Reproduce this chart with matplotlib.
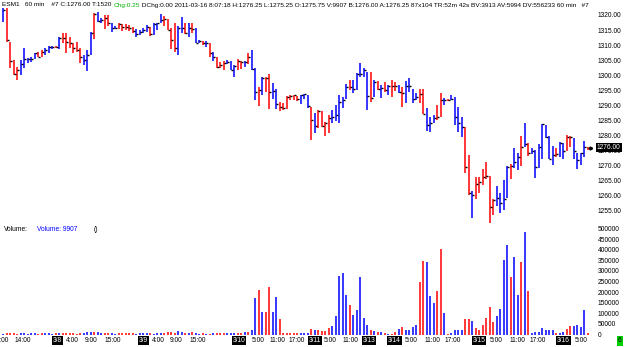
import matplotlib
matplotlib.use('Agg')
import matplotlib.pyplot as plt
import matplotlib.transforms as mtrans
import numpy as np

# hourly OHLC (high, low, close), bar colour and volume
high = [1322.3, 1322.3, 1311.0, 1305.0, 1302.8, 1305.0, 1309.0, 1305.7, 1306.0, 1307.4,
        1307.7, 1308.4, 1309.0, 1309.7, 1309.7, 1309.7, 1312.7, 1314.0, 1314.0, 1312.7,
        1310.7, 1311.0, 1309.0, 1306.7, 1308.4, 1314.4, 1320.7, 1321.0, 1319.0, 1320.0,
        1320.0, 1317.3, 1316.4, 1317.3, 1317.0, 1317.0, 1316.7, 1316.0, 1315.4, 1315.0,
        1315.7, 1316.7,
        1316.0, 1317.3, 1317.3, 1320.3, 1319.7, 1318.7, 1315.7, 1317.3, 1316.4, 1319.3,
        1317.3, 1317.3, 1317.3, 1315.7, 1311.7, 1311.4, 1311.4, 1310.7, 1307.7, 1306.0,
        1304.4, 1304.7, 1305.0, 1304.7, 1303.4, 1305.4, 1304.7, 1304.7, 1307.4, 1308.4,
        1302.4, 1296.0, 1299.4, 1299.4, 1300.4, 1297.5, 1295.5, 1291.2, 1290.8, 1293.1,
        1293.5, 1293.5, 1293.2,
        1293.5, 1293.8, 1293.5, 1289.5, 1287.5, 1288.5, 1288.2, 1284.5, 1286.8, 1288.5,
        1290.2, 1293.5, 1292.8, 1297.1, 1298.4, 1298.4, 1300.7, 1304.0, 1302.4, 1301.0,
        1301.0, 1298.4, 1298.1, 1296.8, 1297.8, 1296.8, 1298.4, 1297.8, 1296.8, 1296.1,
        1298.1, 1299.1, 1295.5, 1294.1, 1295.5, 1295.5, 1289.2, 1286.2, 1286.8, 1290.2,
        1294.1, 1292.5,
        1292.1, 1293.5, 1292.8, 1289.5, 1286.2, 1282.9, 1273.6, 1261.6, 1266.3, 1266.3,
        1268.9, 1271.2, 1266.6, 1259.0, 1263.3, 1261.0, 1265.3, 1269.9, 1270.6, 1275.9,
        1274.2, 1279.9, 1284.2, 1277.5, 1275.9, 1275.2, 1277.2, 1283.8, 1283.5, 1279.9,
        1276.5, 1275.9, 1277.9, 1277.5, 1280.2, 1279.9, 1279.2, 1274.2, 1274.2, 1278.2,
        1276.25]
low = [1317.7, 1311.0, 1302.4, 1300.0, 1298.4, 1300.0, 1302.4, 1304.0, 1304.4, 1305.4,
       1306.0, 1306.0, 1306.7, 1307.4, 1308.7, 1309.0, 1308.7, 1310.7, 1307.4, 1309.0,
       1307.4, 1307.7, 1304.0, 1303.4, 1301.4, 1306.7, 1312.0, 1317.7, 1317.3, 1315.4,
       1316.4, 1314.4, 1315.4, 1315.4, 1314.7, 1315.0, 1314.7, 1314.0, 1312.7, 1313.4,
       1314.0, 1314.4,
       1313.0, 1313.4, 1315.0, 1317.3, 1316.4, 1315.0, 1308.7, 1307.7, 1306.7, 1314.0,
       1313.7, 1312.7, 1314.0, 1310.7, 1310.7, 1310.0, 1309.4, 1306.0, 1304.7, 1302.4,
       1302.4, 1301.8, 1303.7, 1301.8, 1299.4, 1301.8, 1302.0, 1302.8, 1303.7, 1301.8,
       1291.8, 1289.8, 1293.5, 1294.5, 1288.8, 1292.1, 1288.8, 1288.2, 1288.5, 1288.8,
       1291.8, 1291.8, 1291.5,
       1290.5, 1292.1, 1289.2, 1278.5, 1280.9, 1282.5, 1282.9, 1279.9, 1280.9, 1284.2,
       1284.8, 1284.2, 1289.2, 1292.1, 1295.1, 1294.1, 1295.1, 1299.4, 1299.4, 1288.5,
       1291.2, 1292.8, 1295.1, 1292.5, 1294.5, 1293.5, 1292.8, 1294.8, 1294.1, 1289.5,
       1290.8, 1294.5, 1290.8, 1291.8, 1290.8, 1287.2, 1281.5, 1281.2, 1284.2, 1285.2,
       1286.2, 1290.2,
       1291.5, 1291.8, 1283.5, 1281.2, 1279.5, 1267.6, 1260.3, 1252.7, 1259.0, 1261.0,
       1263.6, 1265.6, 1251.0, 1253.7, 1256.6, 1254.3, 1255.3, 1259.3, 1265.6, 1269.3,
       1268.6, 1269.9, 1276.2, 1273.2, 1273.9, 1265.9, 1269.2, 1272.2, 1279.2, 1272.2,
       1270.2, 1272.9, 1272.9, 1272.2, 1274.9, 1276.2, 1272.2, 1268.9, 1270.2, 1272.9,
       1275.25]
close = [1321.7, 1311.7, 1304.7, 1300.4, 1301.8, 1303.7, 1305.4, 1305.3, 1305.3, 1307.4,
         1306.0, 1307.7, 1308.3, 1309.4, 1309.4, 1309.4, 1312.4, 1312.4, 1311.0, 1310.7,
         1309.0, 1308.4, 1306.0, 1305.0, 1306.7, 1314.0, 1320.3, 1318.0, 1318.3, 1319.0,
         1317.3, 1315.7, 1315.7, 1317.0, 1316.0, 1316.0, 1315.7, 1314.7, 1313.7, 1314.4,
         1315.0, 1316.0,
         1313.7, 1317.0, 1317.3, 1318.3, 1318.7, 1315.0, 1311.7, 1309.0, 1315.7, 1315.7,
         1314.0, 1315.7, 1315.4, 1310.7, 1311.4, 1310.7, 1310.7, 1307.4, 1306.0, 1302.8,
         1303.4, 1304.0, 1304.4, 1301.8, 1303.0, 1304.7, 1304.4, 1304.4, 1306.0, 1302.0,
         1294.5, 1295.0, 1299.1, 1299.1, 1294.5, 1294.8, 1290.5, 1289.5, 1289.2, 1292.8,
         1293.2, 1293.5, 1292.1,
         1293.5, 1293.8, 1289.8, 1285.2, 1283.2, 1288.2, 1283.2, 1284.2, 1285.8, 1286.2,
         1286.8, 1291.2, 1291.8, 1296.1, 1296.1, 1295.5, 1300.4, 1300.4, 1301.8, 1293.1,
         1292.5, 1297.8, 1295.5, 1295.8, 1295.0, 1296.4, 1296.4, 1296.4, 1294.5, 1294.1,
         1296.4, 1296.4, 1292.1, 1292.8, 1293.8, 1287.2, 1283.5, 1284.2, 1285.8, 1286.2,
         1291.8, 1291.8,
         1291.8, 1292.1, 1286.2, 1284.2, 1282.9, 1269.6, 1261.0, 1260.3, 1264.0, 1264.6,
         1266.3, 1266.6, 1256.3, 1258.6, 1259.3, 1257.6, 1259.0, 1269.6, 1269.9, 1271.2,
         1272.9, 1276.2, 1277.2, 1274.2, 1274.9, 1269.6, 1276.2, 1283.8, 1279.5, 1272.2,
         1273.6, 1273.9, 1277.5, 1274.9, 1279.5, 1279.5, 1274.9, 1271.9, 1274.2, 1276.2,
         1276.00]
updown = ("urrrruuuuurruuururrrrrruuuruurruurrrrruuu"
          "u"
          "ruuurrrruururuurururrruuurruruuru"
          "rruurrrrrruuu"
          "r"
          "urrrruuuuuruuuuururururruruuuurruuurruruuuu"
          "r"
          "rurrrrrruuuuruururuuuuuuuruurruuuuruuurruu")
volume = [4000, 6000, 5000, 7000, 4000, 6000, 5000, 3000, 6000, 5000,
          4000, 7000, 5000, 6000, 4000, 5000, 6000, 5000, 7000, 5000,
          6000, 4000, 6000, 7000, 12000, 13000, 12000, 10000, 8000, 6000,
          5000, 7000, 4000, 6000, 5000, 7000, 5000, 6000, 4000, 5000,
          6000, 5000,
          6000, 4000, 5000, 8000, 6000, 12000, 14000, 9000, 15000, 11000,
          9000, 7000, 10000, 6000, 4000, 5000, 4000, 3000, 5000, 6000,
          7000, 5000, 6000, 5000, 7000, 6000, 8000, 14000, 14000, 21000,
          172000, 210000, 106000, 106000, 224000, 108000, 177000, 73000, 8000, 5000,
          8000, 5000, 5000,
          5000, 6000, 8000, 26000, 21000, 21000, 16000, 18000, 29000, 40000,
          87000, 276000, 289000, 186000, 139000, 92000, 116000, 273000, 79000, 45000,
          21000, 18000, 13000, 10000, 5000, 3000, 3000, 10000, 26000, 34000,
          21000, 21000, 34000, 45000, 249000, 348000, 342000, 182000, 147000, 205000,
          402000, 100000,
          3000, 5000, 21000, 21000, 21000, 72000, 72000, 64000, 29000, 21000,
          45000, 76000, 131000, 60000, 87000, 119000, 351000, 422000, 273000, 367000,
          186000, 343000, 482000, 205000, 5000, 13000, 10000, 33000, 21000, 21000,
          21000, 5000, 8000, 10000, 26000, 40000, 40000, 47000, 34000, 116000,
          8000]

tick_pos = [-0.6, 5.7, 15.6, 19.9, 25.1, 31.4, 40.1, 44.3, 49.5, 55.7, 67.5, 72.8, 78.5,
            84.0, 89.1, 93.6, 99.4, 104.6, 111.9, 116.6, 122.6, 128.5, 136.0, 140.8,
            146.9, 152.8, 160.1, 165.2]
tick_lab = ['10:00', '14:00', '3/8', '4:00', '9:00', '15:00', '3/9', '4:00', '9:00',
            '15:00', '3/10', '5:00', '11:00', '17:00', '3/11', '5:00', '11:00', '3/13',
            '3/14', '5:00', '11:00', '17:00', '3/15', '5:00', '11:00', '17:00', '3/16',
            '5:00']

price_ticks = np.arange(1255, 1321, 5)
vol_ticks = np.arange(0, 500001, 50000)

n = len(close)
x = np.arange(n)
cols = ['#0000ff' if c == 'u' else '#ff0000' for c in updown[:n]]

W, H = 625, 347
fig = plt.figure(figsize=(W / 100, H / 100), dpi=100)
plt.rcParams['font.family'] = ['Liberation Sans', 'DejaVu Sans']
fs = 4.8
hfs = 4.65

def box(top, bottom):
    return [0, 1 - bottom / H, 592 / W, (bottom - top) / H]

xl = (-3 / 3.5, 589 / 3.5)

# volume panel
axv = fig.add_axes(box(222, 335))
axv.vlines(x, 0, volume, colors=cols, lw=1.1)
axv.set_xlim(xl)
axv.set_ylim(-0.5 * 4717, 112.5 * 4717)
axv.yaxis.tick_right()
axv.set_yticks(vol_ticks)
axv.set_yticklabels([str(v) for v in vol_ticks], fontsize=fs)
axv.tick_params(axis='y', length=0, pad=4)
axv.set_xticks(tick_pos)
axv.set_xticklabels(tick_lab, fontsize=fs)
axv.tick_params(axis='x', length=0, pad=1.5)
for t in axv.get_xticklabels():
    if '/' in t.get_text():
        t.set_color('white')
        t.set_bbox(dict(facecolor='black', edgecolor='none', pad=0.6))
for s in axv.spines.values():
    s.set_visible(False)
axv.text(0.006, 0.93, 'Volume:', transform=axv.transAxes, fontsize=fs, va='center')
axv.text(0.063, 0.93, 'Volume: 9907', transform=axv.transAxes, fontsize=fs,
         va='center', color='#0000ff')
axv.text(0.158, 0.93, '()', transform=axv.transAxes, fontsize=fs, va='center')

# price panel
ax = fig.add_axes(box(7, 225))
ax.patch.set_visible(False)
ax.vlines(x, low, high, colors=cols, lw=1.1)
ax.hlines(close, x, x + 0.6, colors='black', lw=1.0)
ax.plot([x[-1] + 1.0], [close[-1]], marker='>', ms=2.2, color='black', ls='none')
ax.set_xlim(xl)
ax.set_ylim(1320 - 210 / 3.015, 1320 + 8 / 3.015)
ax.yaxis.tick_right()
ax.set_yticks(price_ticks)
ax.set_yticklabels(['%.2f' % p for p in price_ticks], fontsize=fs)
ax.tick_params(axis='y', length=0, pad=4)
ax.set_xticks([])
for s in ax.spines.values():
    s.set_visible(False)
trans = mtrans.blended_transform_factory(ax.transAxes, ax.transData)
ax.text(1.0 + 5 / 592, close[-1], '%.2f' % close[-1], transform=trans, fontsize=fs,
        va='center', ha='left', color='white',
        bbox=dict(facecolor='black', edgecolor='none', pad=0.6))

# header, pieces chained one after the other
t1 = fig.text(2 / W, 1 - 5 / H, 'ESM1   60 min    #7 C:1276.00 T:1520 ',
              fontsize=hfs, va='center')
t2 = fig.add_artist(plt.Annotation('Chg:0.25', xy=(1, 0.5), xycoords=t1, va='center',
                                   ha='left', fontsize=hfs, color='#00b000',
                                   annotation_clip=False))
t3 = fig.add_artist(plt.Annotation(
    ' DChg:0.00 2011-03-16 8:07:18 H:1276.25 L:1275.25 O:1275.75 V:9907 '
    'B:1276.00 A:1276.25 87x104 TR:52m 42s BV:3913 AV:5994 DV:556233 '
    '60 min   #7', xy=(1, 0.5), xycoords=t2, va='center', ha='left',
    fontsize=hfs, annotation_clip=False))
fig.text(620 / W, 1 - 341 / H, '6', fontsize=fs, va='center', ha='center',
         bbox=dict(facecolor='#00d000', edgecolor='none', pad=0.8))

fig.savefig('out.png', dpi=100, facecolor='white')
